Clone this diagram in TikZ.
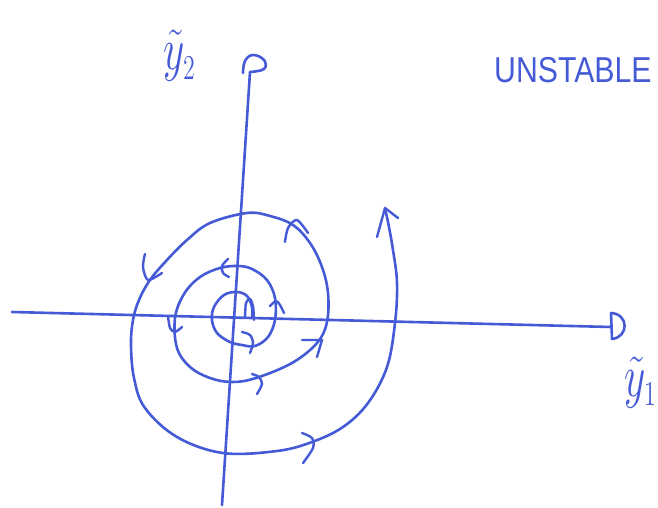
\documentclass[tikz,border=0pt]{standalone}
\usepackage{fontspec}
\newfontfamily\labelfont{Liberation Sans}
\definecolor{ink}{RGB}{68,90,214}
\begin{document}
\begin{tikzpicture}[x=1pt,y=-1pt,
  inkline/.style={draw=ink,line width=2.6pt,line cap=round,line join=round},
  tickmark/.style={draw=ink,line width=2.4pt,line cap=round,line join=round},
  axislabel/.style={text=ink,inner sep=0pt,font=\huge,xscale=2.0,yscale=2.9},
  titlelabel/.style={text=ink,inner sep=0pt,font=\labelfont\fontsize{36}{36}\selectfont}]
\useasboundingbox (0,0) rectangle (658,508);
\fill[white] (0,0) rectangle (658,508);
% axes
\coordinate (hl) at (12,312);
\coordinate (hr) at (611,327);
\coordinate (vb) at (222,505);
\coordinate (vt) at (250,72);
\draw[inkline] (hl) -- (hr);
\draw[inkline] (611,313) -- (612,339) .. controls (629,337) and (629,314) .. (611,313);
\draw[inkline] (vb) -- (vt);
\draw[inkline] plot[smooth,tension=0.7] coordinates {(243,73) (245,61) (253,55) (264,60) (264,69) (250,72)};
% spiral
\draw[inkline] plot[smooth,tension=0.6] coordinates {
 (252,318) (252,307) (247,296) (237,292) (224,295) (214,307) (212,320) (217,333) (230,342)
 (242,345) (255,346) (268,337) (275,320) (275,298) (267,280) (252,269) (238,266) (220,268)
 (200,277) (184,294) (175,318) (177,348) (190,367) (210,378) (232,382) (256,378) (292,363)
 (317,343) (327,322) (328,293) (322,267) (310,243) (293,225) (270,216) (247,213) (210,223)
 (187,240) (167,260) (150,280) (139,300) (133,320) (131,345) (134,378) (145,408) (177,437)
 (223,453) (277,451) (312,442) (343,427) (368,403) (387,367) (395,323) (397,283) (393,250)
 (388,222) (385,209)};
% direction marks
\draw[tickmark] plot[smooth] coordinates {(245,318) (246,303) (250,299) (253,306) (254,320)};
\draw[tickmark] plot[smooth] coordinates {(242,332) (250,335) (253,343) (250,353)};
\draw[tickmark] plot[smooth] coordinates {(270,306) (276,301) (280,305) (284,313)};
\draw[tickmark] plot[smooth] coordinates {(228,259) (222,266) (223,273) (229,277)};
\draw[tickmark] plot[smooth] coordinates {(168,316) (170,328) (175,332) (182,327)};
\draw[tickmark] plot[smooth] coordinates {(252,374) (259,377) (262,384) (257,394)};
\draw[tickmark] (302,340) -- (322,340) -- (317,357);
\draw[tickmark] plot[smooth] coordinates {(285,242) (288,228) (297,220) (308,233)};
\draw[tickmark] plot[smooth] coordinates {(145,254) (143,267) (148,280) (162,273)};
\draw[tickmark] plot[smooth] coordinates {(302,433) (312,438) (313,448) (303,463)};
\draw[tickmark] (377,237) -- (385,208) -- (398,218);
% labels
\node[axislabel,anchor=base west] (ylabtwo) at (163,70) {$\tilde{y}_{\scriptscriptstyle 2}$};
\node[axislabel,anchor=base west] (ylabone) at (624,396) {$\tilde{y}_{\scriptscriptstyle 1}$};
\node[titlelabel,xscale=0.84,anchor=west] (title) at (494,70) {UNSTABLE};
\end{tikzpicture}
\end{document}
